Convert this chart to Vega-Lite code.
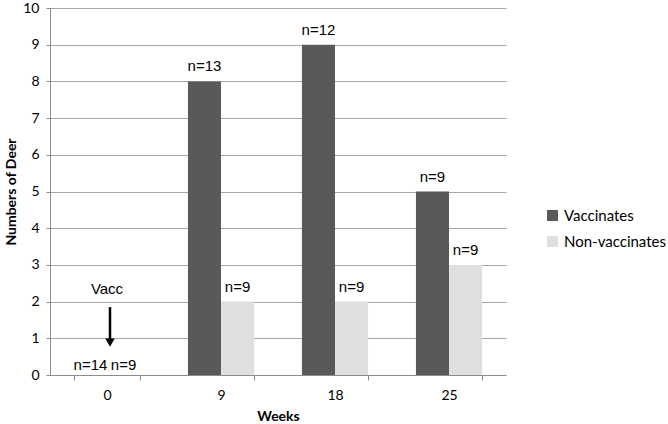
{
  "$schema": "https://vega.github.io/schema/vega-lite/v6.json",
  "width": 456,
  "height": 367,
  "autosize": "none",
  "padding": {"left": 50, "top": 8, "right": 162, "bottom": 49},
  "background": "white",
  "config": {
    "view": {"stroke": null},
    "font": "Lato",
    "axis": {
      "labelFont": "Lato",
      "titleFont": "Lato",
      "labelColor": "#000",
      "titleColor": "#000",
      "domainColor": "#8c8c8c",
      "tickColor": "#8c8c8c",
      "gridColor": "#a6a6a6",
      "labelFontSize": 14,
      "titleFontSize": 14,
      "titleFontWeight": "bold"
    },
    "axisY": {
      "values": [0, 1, 2, 3, 4, 5, 6, 7, 8, 9, 10],
      "labelOverlap": false,
      "tickSize": 4,
      "labelPadding": 7,
      "titlePadding": 4,
      "grid": true
    },
    "legend": {"labelFont": "Lato", "labelFontSize": 15, "labelColor": "#000"}
  },
  "layer": [
    {
      "data": {
        "values": [
          {"week": "0", "group": "Vaccinates", "count": 0, "n": "n=14"},
          {"week": "0", "group": "Non-vaccinates", "count": 0, "n": "n=9"},
          {"week": "9", "group": "Vaccinates", "count": 8, "n": "n=13"},
          {"week": "9", "group": "Non-vaccinates", "count": 2, "n": "n=9"},
          {"week": "18", "group": "Vaccinates", "count": 9, "n": "n=12"},
          {"week": "18", "group": "Non-vaccinates", "count": 2, "n": "n=9"},
          {"week": "25", "group": "Vaccinates", "count": 5, "n": "n=9"},
          {"week": "25", "group": "Non-vaccinates", "count": 3, "n": "n=9"}
        ]
      },
      "encoding": {
        "x": {
          "field": "week",
          "type": "ordinal",
          "sort": ["0", "9", "18", "25"],
          "scale": {"paddingInner": 0.42, "paddingOuter": 0.21},
          "axis": {
            "title": "Weeks",
            "labelAngle": 0,
            "tickBand": "extent",
            "tickSize": 5,
            "labelPadding": 8,
            "titlePadding": 7,
            "grid": false
          }
        },
        "xOffset": {
          "field": "group",
          "type": "nominal",
          "scale": {"domain": ["Vaccinates", "Non-vaccinates"], "paddingInner": 0, "paddingOuter": 0}
        },
        "y": {
          "field": "count",
          "type": "quantitative",
          "title": "Numbers of Deer",
          "scale": {"domain": [0, 10], "nice": false}
        }
      },
      "layer": [
        {
          "mark": {"type": "bar"},
          "encoding": {
            "color": {
              "field": "group",
              "type": "nominal",
              "scale": {"domain": ["Vaccinates", "Non-vaccinates"], "range": ["#595959", "#dfdfdf"]},
              "legend": {
                "title": null,
                "orient": "none",
                "legendX": 495,
                "legendY": 200,
                "symbolType": "square",
                "symbolSize": 120,
                "symbolStrokeWidth": 0,
                "rowPadding": 10,
                "labelOffset": 4
              }
            }
          }
        },
        {
          "transform": [{"filter": "datum.week != '0'"}],
          "mark": {"type": "text", "font": "Liberation Sans", "fontSize": 15, "baseline": "bottom", "dy": -7},
          "encoding": {"text": {"field": "n"}}
        },
        {
          "transform": [{"filter": "datum.week == '0'"}],
          "mark": {"type": "text", "font": "Liberation Sans", "fontSize": 15, "baseline": "bottom", "dy": -2},
          "encoding": {"text": {"field": "n"}}
        }
      ]
    },
    {
      "data": {"values": [{"week": "0", "label": "Vacc"}]},
      "mark": {"type": "text", "font": "Liberation Sans", "fontSize": 15},
      "encoding": {
        "x": {"field": "week", "type": "ordinal", "sort": ["0", "9", "18", "25"]},
        "y": {"datum": 2.34, "type": "quantitative"},
        "text": {"field": "label"}
      }
    },
    {
      "data": {"values": [{"week": "0"}]},
      "mark": {"type": "rule", "strokeWidth": 2.5, "color": "#000", "xOffset": 3},
      "encoding": {
        "x": {"field": "week", "type": "ordinal", "sort": ["0", "9", "18", "25"]},
        "y": {"datum": 1.85, "type": "quantitative"},
        "y2": {"datum": 0.95}
      }
    },
    {
      "data": {"values": [{"week": "0"}]},
      "mark": {"type": "point", "shape": "triangle-down", "filled": true, "color": "#000", "size": 90, "opacity": 1, "xOffset": 3},
      "encoding": {
        "x": {"field": "week", "type": "ordinal", "sort": ["0", "9", "18", "25"]},
        "y": {"datum": 0.88, "type": "quantitative"}
      }
    }
  ]
}
